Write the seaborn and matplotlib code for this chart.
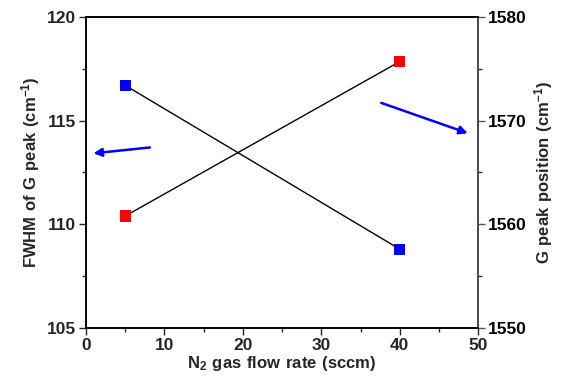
import pandas as pd
import matplotlib
matplotlib.use("Agg")
import matplotlib.pyplot as plt
import seaborn as sns
from matplotlib.ticker import MultipleLocator

flow = [5, 40]
fwhm = [116.7, 108.8]
g_pos = [1560.8, 1575.7]

df = pd.DataFrame({"flow": flow, "fwhm": fwhm, "g_pos": g_pos})

sns.set_style("ticks")
plt.rcParams["font.family"] = ["Liberation Sans", "DejaVu Sans"]
plt.rcParams["font.weight"] = "bold"
plt.rcParams["mathtext.fontset"] = "custom"
plt.rcParams["mathtext.rm"] = "Liberation Sans:bold"
plt.rcParams["mathtext.bf"] = "Liberation Sans:bold"
plt.rcParams["mathtext.default"] = "bf"

fig = plt.figure(figsize=(5.62, 3.85), dpi=100)
ax = fig.add_axes([0.153, 0.148, 0.698, 0.808])
ax2 = ax.twinx()

sns.lineplot(data=df, x="flow", y="fwhm", ax=ax, color="black", lw=1, zorder=1)
sns.scatterplot(data=df, x="flow", y="fwhm", ax=ax, color="#0000ff", marker="s",
                s=64, edgecolor="none", zorder=3)
sns.lineplot(data=df, x="flow", y="g_pos", ax=ax2, color="black", lw=1, zorder=1)
sns.scatterplot(data=df, x="flow", y="g_pos", ax=ax2, color="#ff0000", marker="s",
                s=64, edgecolor="none", zorder=3)

ax.set_xlim(0, 50)
ax.set_ylim(105, 120)
ax2.set_ylim(1550, 1580)
ax.xaxis.set_major_locator(MultipleLocator(10))
ax.xaxis.set_minor_locator(MultipleLocator(5))
ax.yaxis.set_major_locator(MultipleLocator(5))
ax.yaxis.set_minor_locator(MultipleLocator(2.5))
ax2.yaxis.set_major_locator(MultipleLocator(10))
ax2.yaxis.set_minor_locator(MultipleLocator(5))

for a in (ax, ax2):
    a.tick_params(which="major", direction="out", length=5, width=1, labelsize=12.5, pad=2)
    a.tick_params(which="minor", direction="out", length=3, width=1)
    for lab in a.get_xticklabels() + a.get_yticklabels():
        lab.set_fontweight("bold")
    for sp in a.spines.values():
        sp.set_linewidth(1.2)
        sp.set_color("black")
ax2.spines["right"].set_color("#555555")
ax2.tick_params(axis="y", colors="#555555", labelcolor="black")

ax.set_xlabel(r"$\mathbf{N_2\ gas\ flow\ rate\ (sccm)}$", fontsize=12, labelpad=1)
ax.set_ylabel(r"$\mathbf{FWHM\ of\ G\ peak\ (cm^{-1})}$", fontsize=12, labelpad=4)
ax2.set_ylabel(r"$\mathbf{G\ peak\ position\ (cm^{-1})}$", fontsize=12, labelpad=4)

arrow = dict(arrowstyle="-|>", color="#0000ff", lw=1.8, mutation_scale=12)
ax.annotate("", xy=(0.6, 113.41), xytext=(8.5, 113.72), arrowprops=arrow)
ax.annotate("", xy=(49.0, 114.35), xytext=(37.3, 115.9), arrowprops=arrow)

fig.savefig("out.png", dpi=100)
